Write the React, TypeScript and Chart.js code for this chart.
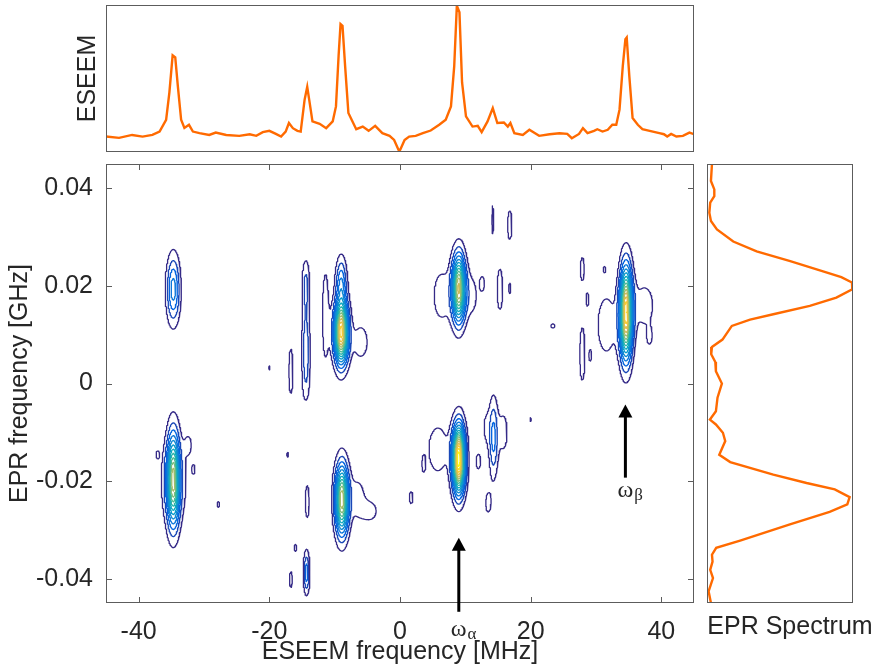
import React, { useEffect, useRef } from 'react';
import { Chart, registerables } from 'chart.js';

Chart.register(...registerables);

const FONT = "'Liberation Sans', Arial, Helvetica, sans-serif";
const SERIF = "'Liberation Serif', 'Times New Roman', serif";
const TEXT = '#262626';
const BOX = '#5c5c5c';
const ORANGE = '#ff6a00';

// ---- ESEEM projection (top panel) ----
const eseemFreq = [-45, -43, -41, -39.4, -37.9, -36.8, -35.8, -35.3, -34.8, -34.4, -34.0, -33.5, -33.0, -32.3, -31.7, -30.7, -29.2, -28.2, -26.6, -24.6, -23, -22, -21, -20, -19, -18.2, -17.5, -17.0, -16.4, -15.7, -15.2, -14.6, -14.2, -13.9, -13.4, -12.3, -11.3, -10.3, -9.8, -9.4, -9.1, -8.8, -8.4, -7.9, -6.7, -5.7, -4.8, -3.8, -2.7, -1.6, -0.9, -0.1, 0.7, 1.4, 2.4, 3.5, 4.7, 6.0, 7.0, 7.8, 8.3, 8.7, 9.1, 9.5, 10.1, 11.1, 11.9, 12.5, 13.4, 14.2, 14.9, 15.9, 16.5, 16.9, 17.5, 18.8, 19.8, 21.3, 22.9, 24.4, 25.6, 26.3, 27.4, 28.0, 28.7, 29.7, 30.2, 31.0, 31.8, 32.5, 33.1, 33.6, 34.1, 34.5, 34.7, 35.1, 35.6, 36.4, 37.1, 38.7, 39.7, 40.4, 40.9, 41.5, 42.3, 43.3, 44.3, 45];
const eseemAmp = [0.105, 0.096, 0.116, 0.105, 0.116, 0.139, 0.219, 0.404, 0.658, 0.644, 0.447, 0.219, 0.164, 0.185, 0.139, 0.128, 0.116, 0.132, 0.116, 0.110, 0.121, 0.110, 0.135, 0.144, 0.123, 0.105, 0.139, 0.197, 0.162, 0.144, 0.139, 0.356, 0.443, 0.356, 0.208, 0.192, 0.162, 0.208, 0.310, 0.653, 0.870, 0.858, 0.584, 0.265, 0.155, 0.173, 0.144, 0.178, 0.128, 0.110, 0.082, 0.002, 0.082, 0.105, 0.110, 0.128, 0.146, 0.185, 0.219, 0.310, 0.584, 0.995, 0.950, 0.473, 0.242, 0.173, 0.178, 0.135, 0.208, 0.299, 0.197, 0.201, 0.173, 0.197, 0.128, 0.116, 0.151, 0.110, 0.121, 0.128, 0.123, 0.094, 0.123, 0.162, 0.128, 0.144, 0.155, 0.139, 0.151, 0.185, 0.185, 0.288, 0.584, 0.767, 0.779, 0.516, 0.231, 0.185, 0.155, 0.139, 0.128, 0.121, 0.105, 0.123, 0.105, 0.110, 0.132, 0.121];

// ---- EPR projection (right panel) ----
const eprFreq = [0.045, 0.0415, 0.0398, 0.0384, 0.0371, 0.035, 0.0333, 0.0316, 0.0291, 0.0271, 0.0251, 0.023, 0.0218, 0.0207, 0.0193, 0.0176, 0.0159, 0.0142, 0.0131, 0.0118, 0.009, 0.0075, 0.006, 0.0044, 0.0025, 0, -0.0029, -0.0057, -0.0074, -0.0084, -0.0101, -0.0118, -0.0146, -0.0161, -0.0187, -0.0204, -0.0217, -0.0233, -0.0248, -0.0263, -0.0289, -0.0322, -0.0337, -0.0351, -0.0365, -0.0382, -0.0399, -0.0426, -0.045];
const eprAmp = [0.034, 0.027, 0.05, 0.05, 0.022, 0.016, 0.027, 0.068, 0.18, 0.34, 0.57, 0.795, 0.92, 0.993, 0.995, 0.886, 0.704, 0.454, 0.295, 0.17, 0.106, 0.034, 0.029, 0.057, 0.061, 0.102, 0.072, 0.061, 0.02, 0.061, 0.109, 0.125, 0.084, 0.159, 0.454, 0.682, 0.875, 0.977, 0.961, 0.84, 0.568, 0.227, 0.063, 0.034, 0.038, 0.022, 0.041, 0.011, 0.027];

// ---- 2D correlation peaks (ESEEM MHz, EPR GHz, widths, amplitude) ----
const peakX = [9.0, 34.6, -9.0, -9.0, 9.0, -34.7, -8.9, -34.7, -14.4, -14.4, -14.4, -14.4, -11.4, -16.7, -6.0, 6.4, 11.0, 12.6, 15.3, 16.8, 14.2, 16.8, 27.9, 23.4, 27.9, 28.7, 29.1, 31.6, 37.4, 38.2, 5.8, 12.0, 3.6, 1.7, 13.5, 14.3, 15.8, 13.2, 20.0, -34.6, -37.1, -31.6, -27.8, -17.2, -6.5, -4.5, -14.2, -14.3, -16.7, -16.0, -20.0, 31.3, -32.4];
const peakY = [-0.0155, 0.0145, 0.0105, 0.0205, 0.0195, -0.0197, -0.0238, 0.0193, 0.0064, 0.0205, 0.0135, -0.0005, 0.014, 0.0025, 0.0085, 0.018, 0.018, 0.0205, 0.0193, 0.0195, 0.0336, 0.0325, 0.0235, 0.0118, 0.006, 0.0172, 0.0057, 0.012, 0.016, 0.0095, -0.0135, -0.016, -0.0166, -0.0234, -0.0245, -0.0111, -0.010, -0.009, -0.0074, -0.02, -0.0146, -0.0176, -0.0248, -0.0146, -0.0235, -0.0262, -0.0242, -0.0388, -0.0402, -0.0337, 0.0032, 0.0234, -0.0125];
const peakWidthX = [0.64, 0.64, 0.72, 0.55, 0.68, 0.65, 0.68, 0.68, 0.45, 0.4, 0.4, 0.4, 0.42, 0.34, 1.0, 1.2, 0.8, 0.35, 0.5, 0.25, 0.2, 0.45, 0.4, 0.5, 0.35, 0.25, 0.25, 1.3, 1.4, 0.35, 1.4, 0.4, 0.25, 0.45, 0.5, 0.45, 0.7, 0.5, 0.25, 1.6, 0.25, 0.25, 0.3, 0.25, 1.0, 1.0, 0.35, 0.3, 0.3, 0.3, 0.25, 0.25, 0.5];
const peakWidthY = [0.0044, 0.006, 0.0041, 0.0035, 0.0044, 0.0061, 0.0046, 0.0045, 0.004, 0.0035, 0.004, 0.003, 0.0077, 0.005, 0.003, 0.0045, 0.0035, 0.0015, 0.005, 0.0017, 0.004, 0.004, 0.0032, 0.0007, 0.0049, 0.0017, 0.0015, 0.0055, 0.004, 0.0015, 0.0045, 0.0018, 0.0016, 0.002, 0.0025, 0.0053, 0.004, 0.003, 0.0008, 0.0058, 0.0008, 0.001, 0.001, 0.0009, 0.0035, 0.0018, 0.004, 0.0028, 0.0022, 0.0012, 0.0008, 0.0008, 0.0018];
const peakAmp = [1.0, 0.88, 0.86, 0.22, 0.72, 0.62, 0.7, 0.26, 0.14, 0.12, 0.07, 0.07, 0.09, 0.075, 0.08, 0.08, 0.07, 0.07, 0.07, 0.06, 0.065, 0.065, 0.065, 0.06, 0.09, 0.06, 0.06, 0.08, 0.075, 0.065, 0.08, 0.07, 0.06, 0.06, 0.065, 0.19, 0.07, 0.06, 0.056, 0.08, 0.058, 0.06, 0.06, 0.058, 0.075, 0.07, 0.07, 0.21, 0.065, 0.06, 0.056, 0.056, 0.06];

const contourLevels = [0.05, 0.11, 0.17, 0.23, 0.29, 0.35, 0.41, 0.47, 0.53, 0.59, 0.65, 0.71, 0.77, 0.83, 0.89, 0.95];
const parulaStops = ['#352a87', '#0363e1', '#1485d4', '#06a7c6', '#38b99e', '#92bf73', '#d9ba56', '#fcce2e', '#f9fb0e'];

const xTicks = [-40, -20, 0, 20, 40];
const xTickLabels = ['-40', '-20', '0', '20', '40'];
const yTicks = [-0.04, -0.02, 0, 0.02, 0.04];
const yTickLabels = ['-0.04', '-0.02', '0', '0.02', '0.04'];

// annotation arrows (ESEEM MHz, EPR GHz)
const arrowX = [9, 34.5];
const arrowTipY = [-0.0316, -0.0043];
const arrowTailY = [-0.0468, -0.0193];
const arrowSub = ['α', 'β'];
const arrowLabelY = [-0.0517, -0.0232];

const NX = 541;
const NY = 451;
const X0 = -45, X1 = 45, Y0 = -0.045, Y1 = 0.045;

function hexToRgb(h: string) {
  const n = parseInt(h.slice(1), 16);
  return [(n >> 16) & 255, (n >> 8) & 255, n & 255];
}
function parula(t: number) {
  const n = parulaStops.length - 1;
  const s = Math.min(n - 1e-9, Math.max(0, t * n));
  const i = Math.floor(s);
  const f = s - i;
  const a = hexToRgb(parulaStops[i]);
  const b = hexToRgb(parulaStops[i + 1]);
  const c = a.map((v, k) => Math.round(v + (b[k] - v) * f));
  return `rgb(${c[0]},${c[1]},${c[2]})`;
}

function axis(a: number, b: number, n: number) {
  const r = new Float64Array(n);
  for (let i = 0; i < n; i++) r[i] = a + ((b - a) * i) / (n - 1);
  return r;
}

function buildField(xs: Float64Array, ys: Float64Array) {
  const f = new Float64Array(NX * NY);
  const gx = new Float64Array(NX);
  const gy = new Float64Array(NY);
  for (let p = 0; p < peakX.length; p++) {
    for (let i = 0; i < NX; i++) {
      const d = (xs[i] - peakX[p]) / peakWidthX[p];
      gx[i] = Math.exp(-0.5 * d * d);
    }
    for (let j = 0; j < NY; j++) {
      const d = (ys[j] - peakY[p]) / peakWidthY[p];
      gy[j] = peakAmp[p] * Math.exp(-0.5 * d * d);
    }
    for (let j = 0; j < NY; j++) {
      if (gy[j] < 1e-6) continue;
      const row = j * NX;
      for (let i = 0; i < NX; i++) {
        if (gx[i] < 1e-6) continue;
        f[row + i] += gy[j] * gx[i];
      }
    }
  }
  return f;
}

type Pt = { x: number; y: number | null };

function traceLevel(f: Float64Array, xs: Float64Array, ys: Float64Array, level: number, adj0: Int32Array, adj1: Int32Array): Pt[] {
  adj0.fill(-1);
  adj1.fill(-1);
  const sa: number[] = [];
  const sb: number[] = [];
  const addSeg = (e1: number, e2: number) => {
    const s = sa.length;
    sa.push(e1);
    sb.push(e2);
    if (adj0[e1] < 0) adj0[e1] = s; else adj1[e1] = s;
    if (adj0[e2] < 0) adj0[e2] = s; else adj1[e2] = s;
  };
  for (let j = 0; j < NY - 1; j++) {
    for (let i = 0; i < NX - 1; i++) {
      const ia = j * NX + i;
      const a = f[ia], b = f[ia + 1], c = f[ia + NX + 1], d = f[ia + NX];
      let code = 0;
      if (a >= level) code |= 1;
      if (b >= level) code |= 2;
      if (c >= level) code |= 4;
      if (d >= level) code |= 8;
      if (code === 0 || code === 15) continue;
      const eB = ia * 2, eT = (ia + NX) * 2, eL = ia * 2 + 1, eR = (ia + 1) * 2 + 1;
      switch (code) {
        case 1: case 14: addSeg(eL, eB); break;
        case 2: case 13: addSeg(eB, eR); break;
        case 3: case 12: addSeg(eL, eR); break;
        case 4: case 11: addSeg(eR, eT); break;
        case 6: case 9: addSeg(eB, eT); break;
        case 7: case 8: addSeg(eL, eT); break;
        case 5: {
          if ((a + b + c + d) / 4 >= level) { addSeg(eB, eR); addSeg(eL, eT); } else { addSeg(eL, eB); addSeg(eR, eT); }
          break;
        }
        case 10: {
          if ((a + b + c + d) / 4 >= level) { addSeg(eL, eB); addSeg(eR, eT); } else { addSeg(eB, eR); addSeg(eL, eT); }
          break;
        }
      }
    }
  }
  const pt = (e: number): Pt => {
    const idx = e >> 1;
    const i = idx % NX;
    const j = (idx - i) / NX;
    const v0 = f[idx];
    if ((e & 1) === 0) {
      const v1 = f[idx + 1];
      const t = (level - v0) / (v1 - v0);
      return { x: xs[i] + t * (xs[i + 1] - xs[i]), y: ys[j] };
    }
    const v1 = f[idx + NX];
    const t = (level - v0) / (v1 - v0);
    return { x: xs[i], y: ys[j] + t * (ys[j + 1] - ys[j]) };
  };
  const used = new Uint8Array(sa.length);
  const walk = (start: number) => {
    const out: number[] = [];
    let cur = start;
    for (;;) {
      let s = adj0[cur];
      if (s < 0 || used[s]) {
        s = adj1[cur];
        if (s < 0 || used[s]) break;
      }
      used[s] = 1;
      const nxt = sa[s] === cur ? sb[s] : sa[s];
      out.push(nxt);
      cur = nxt;
    }
    return out;
  };
  const data: Pt[] = [];
  for (let s = 0; s < sa.length; s++) {
    if (used[s]) continue;
    used[s] = 1;
    const fwd = walk(sb[s]);
    const bwd = walk(sa[s]).reverse();
    const edges = bwd.concat([sa[s], sb[s]], fwd);
    let last: Pt = { x: 0, y: 0 };
    for (const e of edges) {
      last = pt(e);
      data.push(last);
    }
    data.push({ x: last.x, y: null });
  }
  return data;
}

function buildContourDatasets() {
  const xs = axis(X0, X1, NX);
  const ys = axis(Y0, Y1, NY);
  const f = buildField(xs, ys);
  const adj0 = new Int32Array(NX * NY * 2);
  const adj1 = new Int32Array(NX * NY * 2);
  return contourLevels.map((lv, k) => ({
    label: `level ${lv}`,
    data: traceLevel(f, xs, ys, lv, adj0, adj1),
    borderColor: parula(k / (contourLevels.length - 1)),
    borderWidth: 1.3,
    pointRadius: 0,
    pointHoverRadius: 0,
    fill: false,
    tension: 0,
    spanGaps: false,
    borderCapStyle: 'round' as const,
    borderJoinStyle: 'round' as const,
  }));
}

const mainDecor = {
  id: 'mainDecor',
  afterDraw(chart: any) {
    const { ctx, chartArea, scales } = chart;
    const { left, right, top, bottom } = chartArea;
    const x = scales.x, y = scales.y;
    ctx.save();
    ctx.strokeStyle = BOX;
    ctx.lineWidth = 1;
    ctx.strokeRect(left + 0.5, top + 0.5, right - left - 1, bottom - top - 1);
    ctx.beginPath();
    xTicks.forEach((v) => {
      const px = Math.round(x.getPixelForValue(v)) + 0.5;
      ctx.moveTo(px, bottom);
      ctx.lineTo(px, bottom - 6);
      ctx.moveTo(px, top);
      ctx.lineTo(px, top + 6);
    });
    yTicks.forEach((v) => {
      const py = Math.round(y.getPixelForValue(v)) + 0.5;
      ctx.moveTo(left, py);
      ctx.lineTo(left + 6, py);
      ctx.moveTo(right, py);
      ctx.lineTo(right - 6, py);
    });
    ctx.stroke();
    arrowX.forEach((ax, i) => {
      const px = x.getPixelForValue(ax);
      const tip = y.getPixelForValue(arrowTipY[i]);
      const tail = y.getPixelForValue(arrowTailY[i]);
      ctx.strokeStyle = '#000';
      ctx.fillStyle = '#000';
      ctx.lineWidth = 3;
      ctx.beginPath();
      ctx.moveTo(px, tail);
      ctx.lineTo(px, tip + 10);
      ctx.stroke();
      ctx.beginPath();
      ctx.moveTo(px, tip);
      ctx.lineTo(px - 7, tip + 13);
      ctx.lineTo(px + 7, tip + 13);
      ctx.closePath();
      ctx.fill();
      const by = y.getPixelForValue(arrowLabelY[i]);
      ctx.fillStyle = TEXT;
      ctx.textAlign = 'left';
      ctx.textBaseline = 'alphabetic';
      ctx.font = `24px ${SERIF}`;
      ctx.fillText('ω', px - 8, by);
      const w = ctx.measureText('ω').width;
      ctx.font = `17px ${SERIF}`;
      ctx.fillText(arrowSub[i], px - 8 + w + 1, by + 3);
    });
    ctx.restore();
  },
};

const topDecor = {
  id: 'topDecor',
  afterDraw(chart: any) {
    const { ctx, chartArea } = chart;
    const { left, right, top, bottom } = chartArea;
    ctx.save();
    ctx.strokeStyle = BOX;
    ctx.lineWidth = 1;
    ctx.strokeRect(left + 0.5, top + 0.5, right - left - 1, bottom - top - 1);
    ctx.translate(left - 18, (top + bottom) / 2);
    ctx.rotate(-Math.PI / 2);
    ctx.fillStyle = TEXT;
    ctx.font = `25px ${FONT}`;
    ctx.textAlign = 'center';
    ctx.textBaseline = 'middle';
    ctx.fillText('ESEEM', 0, 0);
    ctx.restore();
  },
};

const rightDecor = {
  id: 'rightDecor',
  afterDraw(chart: any) {
    const { ctx, chartArea } = chart;
    const { left, right, top, bottom } = chartArea;
    ctx.save();
    ctx.strokeStyle = BOX;
    ctx.lineWidth = 1;
    ctx.strokeRect(left + 0.5, top + 0.5, right - left - 1, bottom - top - 1);
    ctx.fillStyle = TEXT;
    ctx.font = `25px ${FONT}`;
    ctx.textAlign = 'center';
    ctx.textBaseline = 'middle';
    ctx.fillText('EPR Spectrum', left + 83, bottom + 24);
    ctx.restore();
  },
};

export default function App() {
  const topRef = useRef<HTMLCanvasElement>(null);
  const mainRef = useRef<HTMLCanvasElement>(null);
  const rightRef = useRef<HTMLCanvasElement>(null);

  useEffect(() => {
    Chart.defaults.font.family = FONT;
    const charts: Chart[] = [];
    const common: any = {
      responsive: false,
      animation: false,
      devicePixelRatio: 1,
      events: [],
      plugins: { legend: { display: false }, tooltip: { enabled: false } },
    };

    if (topRef.current) {
      charts.push(
        new Chart(topRef.current, {
          type: 'line',
          data: {
            datasets: [
              {
                label: 'ESEEM',
                data: eseemFreq.map((v, i) => ({ x: v, y: eseemAmp[i] })),
                borderColor: ORANGE,
                borderWidth: 2.4,
                pointRadius: 0,
                tension: 0,
                fill: false,
              },
            ],
          },
          options: {
            ...common,
            layout: { padding: { left: 106, right: 185, top: 5, bottom: 515 } },
            scales: {
              x: { type: 'linear', min: X0, max: X1, display: false },
              y: { type: 'linear', min: 0, max: 1, display: false },
            },
          },
          plugins: [topDecor],
        } as any)
      );
    }

    if (mainRef.current) {
      charts.push(
        new Chart(mainRef.current, {
          type: 'line',
          data: { datasets: buildContourDatasets() },
          options: {
            ...common,
            layout: { padding: { left: 0, right: 185, top: 164, bottom: 0 } },
            scales: {
              x: {
                type: 'linear',
                min: X0,
                max: X1,
                grid: { display: false, drawTicks: false },
                border: { display: false },
                afterBuildTicks: (s: any) => {
                  s.ticks = xTicks.map((v) => ({ value: v }));
                },
                afterFit: (s: any) => {
                  s.height = 64;
                },
                ticks: {
                  autoSkip: false,
                  maxRotation: 0,
                  padding: 14,
                  color: TEXT,
                  font: { family: FONT, size: 25 },
                  callback: (v: any) => xTickLabels[xTicks.indexOf(Number(v))],
                },
                title: {
                  display: true,
                  text: 'ESEEM frequency [MHz]',
                  color: TEXT,
                  font: { family: FONT, size: 25 },
                  padding: { top: 0, bottom: 0 },
                },
              },
              y: {
                type: 'linear',
                min: Y0,
                max: Y1,
                grid: { display: false, drawTicks: false },
                border: { display: false },
                afterBuildTicks: (s: any) => {
                  s.ticks = yTicks.map((v) => ({ value: v }));
                },
                afterFit: (s: any) => {
                  s.width = 106;
                },
                ticks: {
                  autoSkip: false,
                  padding: 13,
                  color: TEXT,
                  font: { family: FONT, size: 25 },
                  callback: (v: any) => yTickLabels[yTicks.indexOf(Number(v))],
                },
                title: {
                  display: true,
                  text: 'EPR frequency [GHz]',
                  color: TEXT,
                  font: { family: FONT, size: 25 },
                  padding: { top: 5, bottom: 0 },
                },
              },
            },
          },
          plugins: [mainDecor],
        } as any)
      );
    }

    if (rightRef.current) {
      charts.push(
        new Chart(rightRef.current, {
          type: 'line',
          data: {
            datasets: [
              {
                label: 'EPR',
                data: eprFreq.map((v, i) => ({ x: eprAmp[i], y: v })),
                borderColor: ORANGE,
                borderWidth: 2.4,
                pointRadius: 0,
                tension: 0,
                fill: false,
              },
            ],
          },
          options: {
            ...common,
            indexAxis: 'y',
            layout: { padding: { left: 707, right: 26, top: 164, bottom: 64 } },
            scales: {
              x: { type: 'linear', min: 0, max: 1, display: false },
              y: { type: 'linear', min: Y0, max: Y1, display: false },
            },
          },
          plugins: [rightDecor],
        } as any)
      );
    }

    return () => charts.forEach((c) => c.destroy());
  }, []);

  const cs: React.CSSProperties = { position: 'absolute', left: 0, top: 0 };
  return (
    <div style={{ position: 'absolute', left: 0, top: 0, width: 879, height: 667, background: '#fff', overflow: 'hidden' }}>
      <canvas ref={topRef} width={879} height={667} style={cs} />
      <canvas ref={mainRef} width={879} height={667} style={cs} />
      <canvas ref={rightRef} width={879} height={667} style={cs} />
    </div>
  );
}
